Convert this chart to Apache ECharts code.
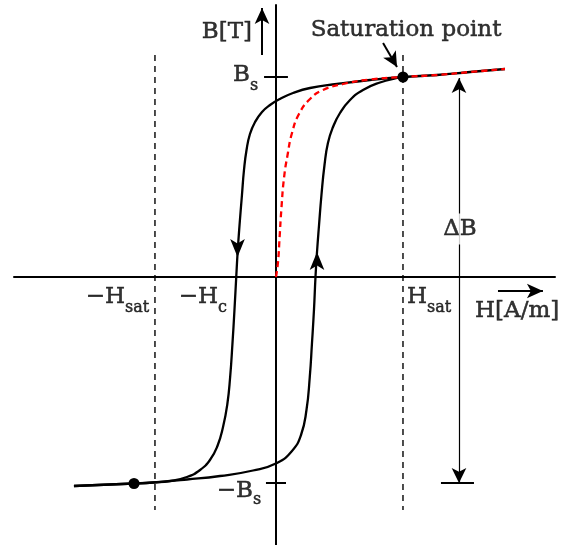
<!DOCTYPE html>
<html>
<head>
<meta charset="utf-8">
<script src="https://cdn.jsdelivr.net/npm/echarts@6/dist/echarts.min.js"></script>
<style>
  html, body { margin: 0; padding: 0; background: #fff; }
  #chart { width: 574px; height: 545px; }
</style>
</head>
<body>
<div id="chart"></div>
<script>
// Hysteresis loop of a ferromagnetic core. H in units of H_sat, B in units of B_s.

// Descending branch (from positive saturation down to negative saturation)
const descendingBranch = [
  [1.803, 1.04], [1.528, 1.025], [1.268, 1.01], [1.0, 1.0], [0.740, 0.985],
  [0.480, 0.965], [0.268, 0.945], [0.134, 0.92], [0.031, 0.89], [-0.047, 0.86],
  [-0.110, 0.825], [-0.165, 0.775], [-0.205, 0.715], [-0.232, 0.635], [-0.252, 0.535],
  [-0.268, 0.41], [-0.287, 0.26], [-0.302, 0.125], [-0.313, 0], [-0.327, -0.165],
  [-0.343, -0.335], [-0.361, -0.50], [-0.383, -0.635], [-0.417, -0.75], [-0.461, -0.845],
  [-0.520, -0.915], [-0.598, -0.965], [-0.701, -1.0], [-0.835, -1.02], [-0.969, -1.0275],
  [-1.118, -1.0325], [-1.591, -1.045]
];

// Ascending branch (from negative saturation back up to the saturation point)
const ascendingBranch = [
  [-1.591, -1.045], [-1.118, -1.0325], [-0.969, -1.0275], [-0.701, -1.0125], [-0.441, -0.995],
  [-0.181, -0.9675], [0.008, -0.93], [0.126, -0.87], [0.197, -0.79], [0.240, -0.665],
  [0.266, -0.50], [0.283, -0.335], [0.299, -0.165], [0.311, 0], [0.323, 0.125],
  [0.339, 0.26], [0.358, 0.41], [0.382, 0.56], [0.409, 0.67], [0.449, 0.75],
  [0.504, 0.82], [0.583, 0.885], [0.685, 0.935], [0.819, 0.9725], [0.953, 0.995], [1.0, 1.0]
];

// Initial magnetization curve from the demagnetized state
const initialCurve = [
  [0, 0], [0.016, 0.075], [0.028, 0.195], [0.043, 0.345], [0.063, 0.495],
  [0.091, 0.61], [0.126, 0.72], [0.181, 0.815], [0.268, 0.89], [0.370, 0.935],
  [0.528, 0.965], [0.740, 0.9875], [1.0, 1.0], [1.268, 1.01], [1.528, 1.025], [1.803, 1.04]
];

// Saturation points on both ends of the loop
const saturationPoints = [[1.0, 1.0], [-1.118, -1.0325]];

// Key field / flux values
const hSatNeg = -0.953;
const hSatPos = 1.0;
const bSatPos = 1.0;
const bSatNeg = -1.03;
const deltaBAt = 1.441;

// Direction markers on the loop: [H, B, rotation]
const directionMarks = [[-0.303, 0.10, 180], [0.323, 0.125, 0]];

// Main text labels: [H, B, text, align]
const textLabels = [
  [1.024, 1.235, 'Saturation point', 'center'],
  [-0.189, 1.225, 'B[T]', 'right'],
  [-0.205, 1.01, 'B', 'right'],
  [-0.181, -1.0725, '\u2212B', 'right'],
  [-1.189, -0.1025, '\u2212H', 'right'],
  [-0.457, -0.1025, '\u2212H', 'right'],
  [1.189, -0.1025, 'H', 'right'],
  [1.567, -0.17, 'H[A/m]', 'left'],
  [1.449, 0.24, '\u0394B', 'center']
];

// Subscripts, left-aligned right after their base letter: [H, B, text]
const subscriptLabels = [
  [-0.205, 0.955, 's'],
  [-0.181, -1.115, 's'],
  [-1.189, -0.155, 'sat'],
  [-0.457, -0.155, 'c'],
  [1.189, -0.155, 'sat']
];

const FONT = '"DejaVu Serif", "Liberation Serif", serif';
const INK = '#000';

function segment(data, width, type) {
  return {
    type: 'line', data: data, symbol: 'none', silent: true,
    lineStyle: { color: INK, width: width, type: type || 'solid' }, z: 3
  };
}

function curve(data, color, dash, z) {
  return {
    type: 'line', data: data, smooth: 0.5, symbol: 'none', silent: true,
    lineStyle: { color: color, width: 2.3, type: dash || 'solid' }, z: z
  };
}

function arrowLine(from, to, width, size, ends) {
  return {
    type: 'line', data: [], silent: true,
    markLine: {
      silent: true, animation: false,
      symbol: ends || ['none', 'arrow'], symbolSize: size,
      label: { show: false },
      lineStyle: { color: INK, width: width, type: 'solid' },
      emphasis: { disabled: true },
      data: [[{ coord: from }, { coord: to }]]
    }
  };
}

function textSeries(items, fontSize, align) {
  return {
    type: 'scatter', silent: true, z: 10, symbolSize: 0,
    data: items.map(t => ({
      value: [t[0], t[1]],
      label: { formatter: t[2], align: t[3] || align }
    })),
    label: {
      show: true, position: [0, 0], verticalAlign: 'middle',
      color: INK, fontFamily: FONT, fontSize: fontSize,
      textBorderColor: INK, textBorderWidth: 0.5
    }
  };
}

const chart = echarts.init(document.getElementById('chart'), null, { renderer: 'canvas' });

const labelSeries = textSeries(textLabels, 23, 'center');
// White gap behind the ΔB label
labelSeries.data[8].label.backgroundColor = '#fff';
labelSeries.data[8].label.padding = [4, 2];

const option = {
  animation: false,
  backgroundColor: '#fff',
  grid: { left: 14, right: 19, top: 5, bottom: 0, containLabel: false },
  xAxis: {
    type: 'value', min: -2.063, max: 2.197,
    axisLine: { onZero: true, lineStyle: { color: INK, width: 2 } },
    axisTick: { show: false }, axisLabel: { show: false }, splitLine: { show: false }
  },
  yAxis: {
    type: 'value', min: -1.34, max: 1.36,
    axisLine: { onZero: true, lineStyle: { color: INK, width: 2 } },
    axisTick: { show: false }, axisLabel: { show: false }, splitLine: { show: false }
  },
  series: [
    // Dashed guides at ±H_sat
    segment([[hSatNeg, 1.11], [hSatNeg, -1.165]], 1.4, [6, 5]),
    segment([[hSatPos, 1.11], [hSatPos, -1.165]], 1.4, [6, 5]),
    // B_s and -B_s ticks on the B axis
    segment([[-0.094, bSatPos], [0.094, bSatPos]], 2),
    segment([[-0.079, bSatNeg], [0.079, bSatNeg]], 2),
    // Bottom bar of the ΔB span
    segment([[1.299, bSatNeg], [1.559, bSatNeg]], 2),
    // Hysteresis loop
    curve(descendingBranch, INK, null, 4),
    curve(ascendingBranch, INK, null, 4),
    // Initial magnetization curve
    curve(initialCurve, '#ff0000', [6, 4], 5),
    // Direction arrows on the loop
    {
      type: 'scatter', silent: true, z: 6,
      data: directionMarks.map(d => ({ value: [d[0], d[1]], symbolRotate: d[2] })),
      symbol: 'arrow', symbolSize: [11, 18],
      itemStyle: { color: INK, opacity: 1 }
    },
    // Saturation points
    {
      type: 'scatter', silent: true, z: 7, data: saturationPoints,
      symbol: 'circle', symbolSize: 11, itemStyle: { color: INK, opacity: 1 }
    },
    // ΔB double arrow
    arrowLine([deltaBAt, bSatPos - 0.005], [deltaBAt, bSatNeg], 1.2, [11, 15], ['arrow', 'arrow']),
    // Pointer to the saturation point
    arrowLine([0.843, 1.17], [0.953, 1.05], 2, [11, 15]),
    // Axis direction arrows
    arrowLine([-0.110, 1.11], [-0.110, 1.345], 2, [11, 16]),
    arrowLine([1.748, -0.07], [2.102, -0.07], 2, [11, 16]),
    // Labels
    labelSeries,
    textSeries(subscriptLabels, 16, 'left')
  ]
};

chart.setOption(option);
</script>
</body>
</html>
